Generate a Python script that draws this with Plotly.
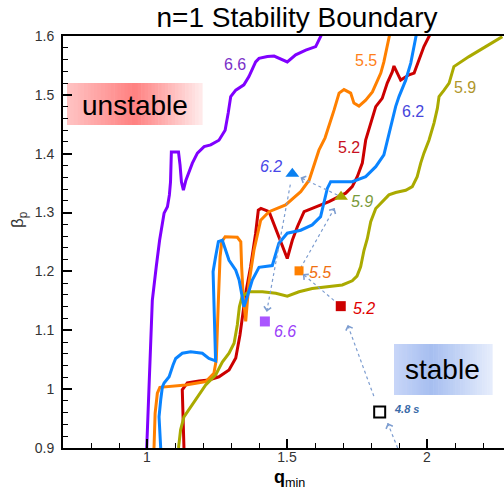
import plotly.graph_objects as go

# ---------------- data ----------------
q_66 = [0.999, 1.005, 1.010, 1.019, 1.033, 1.045, 1.061, 1.073, 1.080, 1.084, 1.087, 1.1125, 1.118, 1.123,
        1.130, 1.139, 1.162, 1.180, 1.204, 1.2275, 1.257, 1.279, 1.290, 1.299, 1.317, 1.346, 1.364, 1.388,
        1.400, 1.430, 1.454, 1.471, 1.501, 1.531, 1.567, 1.6025, 1.620, 1.626]
bp_66 = [0.900, 0.982, 1.061, 1.151, 1.208, 1.253, 1.299, 1.310, 1.330, 1.352, 1.403, 1.403, 1.381, 1.352,
         1.338, 1.355, 1.384, 1.401, 1.412, 1.415, 1.423, 1.440, 1.469, 1.497, 1.508, 1.517, 1.531, 1.556,
         1.562, 1.565, 1.566, 1.562, 1.556, 1.568, 1.576, 1.582, 1.599, 1.605]

q_55 = [1.025, 1.029, 1.037, 1.046, 1.138, 1.210, 1.239, 1.2475, 1.255, 1.261, 1.267, 1.279, 1.3225, 1.335,
        1.338, 1.343, 1.350, 1.3525, 1.364, 1.382, 1.406, 1.436, 1.495, 1.531, 1.549, 1.579, 1.596, 1.614,
        1.636, 1.650, 1.668, 1.686, 1.7036, 1.7275, 1.739, 1.757, 1.781, 1.805, 1.835, 1.846, 1.858, 1.870]
bp_55 = [0.900, 0.959, 0.993, 1.003, 1.007, 1.013, 1.027, 1.050, 1.152, 1.225, 1.2505, 1.259, 1.258, 1.2505,
         1.208, 1.163, 1.129, 1.115, 1.180, 1.236, 1.287, 1.3015, 1.313, 1.327, 1.3355, 1.355, 1.378, 1.406,
         1.427, 1.446, 1.474, 1.503, 1.509, 1.503, 1.486, 1.481, 1.491, 1.505, 1.537, 1.556, 1.582, 1.610]

q_52 = [1.132, 1.130, 1.126, 1.144, 1.186, 1.221, 1.257, 1.293, 1.317, 1.332, 1.343, 1.3525, 1.370, 1.388,
        1.3975, 1.407, 1.436, 1.471, 1.501, 1.519, 1.537, 1.561, 1.6025, 1.650, 1.7096, 1.733, 1.751, 1.769,
        1.781, 1.799, 1.817, 1.840, 1.858, 1.876, 1.882, 1.906, 1.936, 1.954, 1.971, 1.989, 2.007, 2.014]
bp_52 = [0.900, 0.948, 0.999, 1.0105, 1.014, 1.0155, 1.021, 1.0325, 1.053, 1.092, 1.129, 1.163, 1.208, 1.265,
         1.304, 1.307, 1.3015, 1.259, 1.222, 1.253, 1.276, 1.3015, 1.310, 1.3185, 1.333, 1.344, 1.361, 1.384,
         1.423, 1.452, 1.480, 1.494, 1.520, 1.539, 1.549, 1.525, 1.534, 1.537, 1.559, 1.582, 1.599, 1.605]

q_62 = [1.049, 1.043, 1.049, 1.055, 1.061, 1.079, 1.093, 1.1025, 1.126, 1.156, 1.1975, 1.221, 1.245, 1.243,
        1.239, 1.236, 1.245, 1.255, 1.269, 1.281, 1.293, 1.317, 1.329, 1.340, 1.346, 1.358, 1.376, 1.400,
        1.4475, 1.471, 1.501, 1.549, 1.590, 1.620, 1.632, 1.644, 1.656, 1.733, 1.781, 1.817, 1.846, 1.858,
        1.870, 1.888, 1.900, 1.924, 1.942, 1.954, 1.965]
bp_62 = [0.900, 0.953, 0.982, 1.004, 1.0105, 1.021, 1.041, 1.052, 1.061, 1.0635, 1.061, 1.052, 1.048, 1.095,
         1.152, 1.1995, 1.225, 1.2505, 1.253, 1.236, 1.219, 1.202, 1.1855, 1.157, 1.140, 1.157, 1.1855, 1.207,
         1.210, 1.248, 1.265, 1.270, 1.279, 1.293, 1.316, 1.341, 1.3525, 1.3525, 1.361, 1.378, 1.398, 1.423,
         1.446, 1.480, 1.497, 1.525, 1.554, 1.582, 1.610]

q_59 = [1.1125, 1.120, 1.132, 1.156, 1.186, 1.2096, 1.245, 1.269, 1.293, 1.311, 1.3225, 1.330, 1.340, 1.364,
        1.412, 1.460, 1.501, 1.543, 1.590, 1.650, 1.6975, 1.733, 1.750, 1.763, 1.775, 1.787, 1.799, 1.817,
        1.835, 1.864, 1.888, 1.924, 1.9475, 1.965, 1.9775, 1.989, 2.007, 2.025, 2.037, 2.043, 2.061, 2.079,
        2.096, 2.150, 2.2096, 2.269]
bp_59 = [0.900, 0.931, 0.953, 0.970, 0.992, 1.007, 1.024, 1.046, 1.061, 1.078, 1.109, 1.140, 1.158, 1.1655,
         1.1655, 1.163, 1.158, 1.1655, 1.171, 1.174, 1.177, 1.184, 1.192, 1.208, 1.236, 1.256, 1.2845, 1.307,
         1.316, 1.330, 1.334, 1.338, 1.344, 1.361, 1.384, 1.401, 1.423, 1.452, 1.477, 1.497, 1.508, 1.520,
         1.548, 1.565, 1.582, 1.599]

# boundary labels
curve_names = ["6.6", "5.2", "5.5", "5.9", "6.2"]
curve_label_q = [1.314, 1.721, 1.782, 2.136, 1.950]
curve_label_bp = [1.551, 1.410, 1.558, 1.513, 1.471]

# operating points (time sequence)
shot_labels = ["4.8 s", "5.2", "5.5", "5.9", "6.2", "6.6"]
shot_q = [1.831, 1.692, 1.543, 1.693, 1.519, 1.421]
shot_bp = [0.961, 1.141, 1.201, 1.327, 1.366, 1.115]

# ---------------- styles ----------------
FONT = "Liberation Sans, Arial, sans-serif"
X0, X1 = 0.7, 2.275
Y0, Y1 = 0.9, 1.6
W, H = 504, 490
ML, MR, MT, MB = 63, 0, 36, 42
PW, PH = W - ML - MR, H - MT - MB

def to_px(q, b):
    return ((q - X0) / (X1 - X0) * PW, (Y1 - b) / (Y1 - Y0) * PH)

def to_data(px, py):
    return (X0 + px / PW * (X1 - X0), Y1 - py / PH * (Y1 - Y0))

curves = [
    (q_66, bp_66, "#8000ff"),
    (q_52, bp_52, "#cc0000"),
    (q_55, bp_55, "#ff8000"),
    (q_59, bp_59, "#aaaa00"),
    (q_62, bp_62, "#0a84ff"),
]
curve_label_colors = {"6.6": "#7a30c8", "5.2": "#c81020", "5.5": "#ff7f1a", "5.9": "#b0962a", "6.2": "#4646dc"}

shot_symbols = ["square-open", "square", "square", "triangle-up", "triangle-up", "square"]
shot_colors = ["black", "#cc0000", "#ff8000", "#a8a800", "#0a80f0", "#aa55ff"]
shot_sizes = [11, 10, 9, 12, 12, 10]
shot_label_colors = ["#3a6aa8", "#e00000", "#f07010", "#7a9a3a", "#4848e8", "#9a40f8"]
shot_label_shift = [(12, 3, "left"), (10, -2, "left"), (8, -2, "left"), (8, -5, "left"), (-8, 7, "right"), (7, -10, "left")]

fig = go.Figure()

for q, b, c in curves:
    fig.add_trace(go.Scatter(x=q, y=b, mode="lines", line=dict(color=c, width=3),
                             hoverinfo="skip", showlegend=False))

# dotted trajectory arrows
ARROW_C = "#7d9dd0"
gap_start = [17, 9, 3, 4, 11]
gap_end = [20, 5, 13, 9, 10]
annotations = []

def add_arrow(p0, p1):
    x0, y0 = p0
    x1, y1 = p1
    d0 = to_data(x0, y0)
    d1 = to_data(x1, y1)
    fig.add_trace(go.Scatter(x=[d0[0], d1[0]], y=[d0[1], d1[1]], mode="lines",
                             line=dict(color=ARROW_C, width=1.2, dash="dot"),
                             hoverinfo="skip", showlegend=False))
    L = ((x1 - x0) ** 2 + (y1 - y0) ** 2) ** 0.5
    ux, uy = (x1 - x0) / L, (y1 - y0) / L
    annotations.append(dict(x=d1[0], y=d1[1], xref="x", yref="y", text="", showarrow=True,
                            ax=-ux * 5, ay=-uy * 5, arrowhead=4, arrowsize=1.4, arrowwidth=1,
                            arrowcolor=ARROW_C))

pts = [to_px(q, b) for q, b in zip(shot_q, shot_bp)]
# incoming arrow from below the axis toward the first point
add_arrow((pts[0][0] + 18, pts[0][1] + 36), (pts[0][0] + 8, pts[0][1] + 11))
for i in range(len(pts) - 1):
    (xa, ya), (xb, yb) = pts[i], pts[i + 1]
    L = ((xb - xa) ** 2 + (yb - ya) ** 2) ** 0.5
    ux, uy = (xb - xa) / L, (yb - ya) / L
    add_arrow((xa + ux * gap_start[i], ya + uy * gap_start[i]), (xb - ux * gap_end[i], yb - uy * gap_end[i]))

for i in range(len(shot_q)):
    fig.add_trace(go.Scatter(
        x=[shot_q[i]], y=[shot_bp[i]], mode="markers",
        marker=dict(symbol=shot_symbols[i], size=shot_sizes[i], color=shot_colors[i],
                    line=dict(color=shot_colors[i], width=2 if i == 0 else 0)),
        hoverinfo="skip", showlegend=False))
    dx, dy, anc = shot_label_shift[i]
    txt = "<b><i>%s</i></b>" % shot_labels[i] if i == 0 else "<i>%s</i>" % shot_labels[i]
    annotations.append(dict(x=shot_q[i], y=shot_bp[i], xref="x", yref="y", text=txt, showarrow=False,
                            xanchor=anc, yanchor="middle", xshift=dx, yshift=dy,
                            font=dict(family=FONT, size=11 if i == 0 else 16, color=shot_label_colors[i])))

for name, q, b in zip(curve_names, curve_label_q, curve_label_bp):
    annotations.append(dict(x=q, y=b, xref="x", yref="y", text=name, showarrow=False,
                            xanchor="center", yanchor="middle",
                            font=dict(family=FONT, size=16, color=curve_label_colors[name])))

# gradient boxes
shapes = []

def lerp(a, b, t):
    return tuple(int(round(a[k] + (b[k] - a[k]) * t)) for k in range(3))

def grad_box(px0, py0, px1, py1, left, peak, right, tpeak, n=40):
    for k in range(n):
        t = (k + 0.5) / n
        if t < tpeak:
            c = lerp(left, peak, t / tpeak)
        else:
            c = lerp(peak, right, (t - tpeak) / (1 - tpeak))
        xa = px0 + (px1 - px0) * k / n
        xb = px0 + (px1 - px0) * (k + 1) / n + 0.6
        shapes.append(dict(type="rect", xref="paper", yref="paper",
                           x0=(xa - ML) / PW, x1=(xb - ML) / PW,
                           y0=(H - MB - py1) / PH, y1=(H - MB - py0) / PH,
                           fillcolor="rgb(%d,%d,%d)" % c, line=dict(width=0), layer="below"))

grad_box(67, 83, 202, 125, (255, 196, 196), (255, 128, 128), (255, 236, 236), 0.5)
grad_box(394, 344, 492, 395, (200, 214, 248), (166, 190, 240), (230, 237, 252), 0.38)

annotations.append(dict(x=(134.5 - ML) / PW, y=(H - MB - 105) / PH, xref="paper", yref="paper",
                        text="unstable", showarrow=False, xanchor="center", yanchor="middle",
                        font=dict(family=FONT, size=28, color="black")))
annotations.append(dict(x=(442 - ML) / PW, y=(H - MB - 369) / PH, xref="paper", yref="paper",
                        text="stable", showarrow=False, xanchor="center", yanchor="middle",
                        font=dict(family=FONT, size=28, color="black")))

# axis titles
annotations.append(dict(x=(19 - ML) / PW, y=(H - MB - 220) / PH, xref="paper", yref="paper",
                        text="β<sub>p</sub>", showarrow=False, textangle=-90,
                        xanchor="center", yanchor="middle",
                        font=dict(family=FONT, size=17, color="#333333")))
annotations.append(dict(x=(289 - ML) / PW, y=(H - MB - 478) / PH, xref="paper", yref="paper",
                        text="<b>q</b><sub>min</sub>", showarrow=False,
                        xanchor="center", yanchor="middle",
                        font=dict(family=FONT, size=18, color="black")))

axis_common = dict(showgrid=False, zeroline=False, ticks="inside", ticklen=9, tickwidth=2,
                   tickcolor="black", showline=True, linecolor="black", linewidth=2,
                   tickfont=dict(family=FONT, size=14, color="#333333"))

fig.update_layout(
    width=W, height=H, margin=dict(l=ML, r=MR, t=MT, b=MB),
    paper_bgcolor="white", plot_bgcolor="white",
    title=dict(text="n=1 Stability Boundary", x=297 / W, xanchor="center", y=1 - 17 / H,
               yanchor="middle", yref="container",
               font=dict(family=FONT, size=28, color="black")),
    xaxis=dict(range=[X0, X1], tick0=0, dtick=0.5, mirror=True, ticklabelstandoff=-5,
               minor=dict(dtick=0.1, ticks="inside", ticklen=5, tickwidth=1, tickcolor="black"),
               **axis_common),
    yaxis=dict(range=[Y0, Y1], tick0=0, dtick=0.1, ticklabelstandoff=4,
               minor=dict(dtick=0.02, ticks="inside", ticklen=5, tickwidth=1, tickcolor="black"),
               **axis_common),
    shapes=shapes, annotations=annotations, showlegend=False,
)

fig.write_html("out.html")
